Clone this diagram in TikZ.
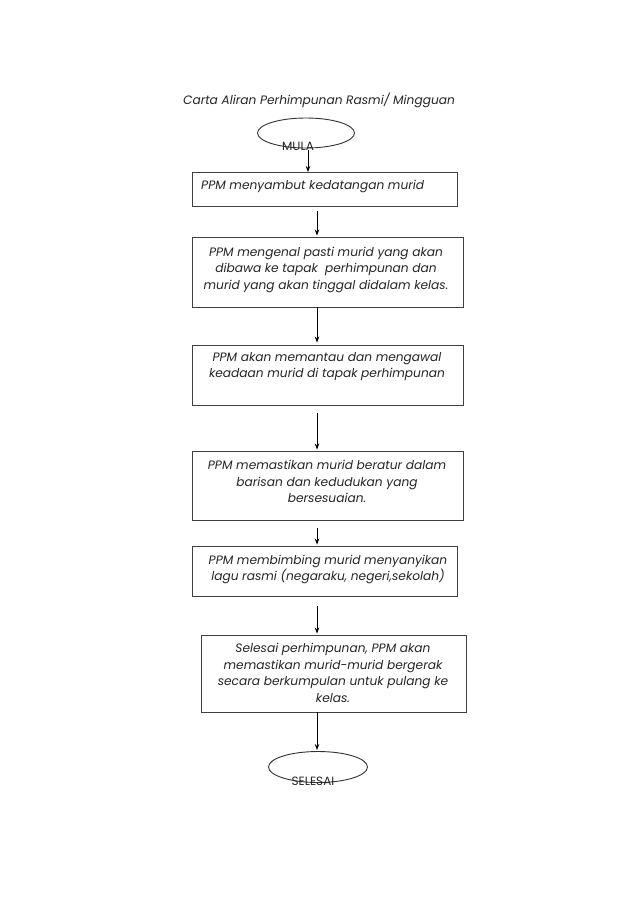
\documentclass[tikz,border=0pt]{standalone}
\usepackage{fontspec}
\setmainfont{Poppins}
\usetikzlibrary{shapes.geometric,arrows.meta}
\begin{document}
\begin{tikzpicture}[x=1pt,y=-1pt,
  every node/.style={font=\fontsize{12.2}{16.5}\selectfont\itshape, text=black!85},
  boxshape/.style={draw=black!75, line width=0.9pt, rectangle, inner sep=0pt},
  ovalshape/.style={draw=black!80, line width=0.9pt, ellipse, inner sep=0pt},
  lbl/.style={inner sep=0pt, align=center},
  flow/.style={draw=black, line width=0.8pt, -{Stealth[length=6pt,width=4.5pt]}}]
\useasboundingbox (0,0) rectangle (638,903);
\fill[white] (0,0) rectangle (638,903);
\node[lbl] (title) at (319,100) {Carta Aliran Perhimpunan Rasmi/ Mingguan};
% start
\node[ovalshape, minimum width=97pt, minimum height=30pt] (mula) at (306,133) {};
\node[lbl, font=\fontsize{12}{12}\selectfont] (mulat) at (298,146) {MULA};
% boxes
\node[boxshape, minimum width=265pt, minimum height=34pt] (b1) at (324.5,189) {};
\node[lbl, anchor=west] (t1) at (201,186) {PPM menyambut kedatangan murid};
\node[boxshape, minimum width=271pt, minimum height=70pt] (b2) at (327.5,272) {};
\node[lbl] (t2) at (326,269.5) {PPM mengenal pasti murid yang akan\\dibawa ke tapak\ \ perhimpunan dan\\murid yang akan tinggal didalam kelas.};
\node[boxshape, minimum width=271pt, minimum height=60pt] (b3) at (327.5,375) {};
\node[lbl] (t3) at (327,366.5) {PPM akan memantau dan mengawal\\keadaan murid di tapak perhimpunan};
\node[boxshape, minimum width=271pt, minimum height=69pt] (b4) at (327.5,485.5) {};
\node[lbl] (t4) at (327,481.5) {PPM memastikan murid beratur dalam\\barisan dan kedudukan yang\\bersesuaian.};
\node[boxshape, minimum width=265pt, minimum height=50pt] (b5) at (324.5,571) {};
\node[lbl] (t5) at (328,569.5) {PPM membimbing murid menyanyikan\\lagu rasmi (negaraku, negeri,sekolah)};
\node[boxshape, minimum width=265pt, minimum height=77pt] (b6) at (333.5,673.5) {};
\node[lbl] (t6) at (333,673) {Selesai perhimpunan, PPM akan\\memastikan murid-murid bergerak\\secara berkumpulan untuk pulang ke\\kelas.};
% end
\node[ovalshape, minimum width=99pt, minimum height=31pt] (selesai) at (318,767) {};
\node[lbl, font=\fontsize{12}{12}\selectfont] (selesait) at (313,781) {SELESAI};
% connectors
\coordinate (a0) at (308,150);
\draw[flow] (a0) -- (308,172);
\draw[flow, shorten <=5pt, shorten >=1pt] (b1.south -| 317,0) -- (b2.north -| 317,0);
\draw[flow, shorten >=2pt] (b2.south -| 317,0) -- (b3.north -| 317,0);
\draw[flow, shorten <=8pt, shorten >=1pt] (b3.south -| 317,0) -- (b4.north -| 317,0);
\draw[flow, shorten <=8pt, shorten >=1pt] (b4.south -| 317,0) -- (b5.north -| 317,0);
\draw[flow, shorten <=10pt, shorten >=1pt] (b5.south -| 317,0) -- (b6.north -| 317,0);
\draw[flow, shorten >=1pt] (b6.south -| 317,0) -- (selesai.north -| 317,0);
\end{tikzpicture}
\end{document}
